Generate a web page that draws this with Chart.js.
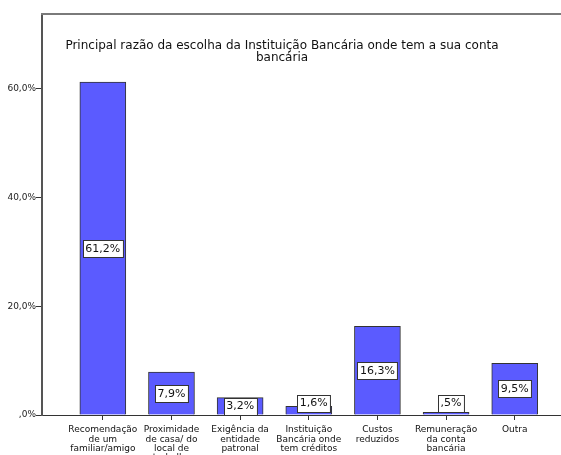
<!DOCTYPE html>
<html>
<head>
<meta charset="utf-8">
<script src="https://cdn.jsdelivr.net/npm/chart.js@4/dist/chart.umd.min.js"></script>
<style>
    html, body { margin: 0; padding: 0; background: #fff; }
    #wrap { width: 561px; height: 455px; }
</style>
</head>
<body>
<div id="wrap"><canvas id="razaoChart"></canvas></div>
<script>
/* Principal razão da escolha do banco - bar chart (SPSS style) */

const categories = [
    ['Recomendação', 'de um', 'familiar/amigo'],
    ['Proximidade', 'de casa/ do', 'local de', 'trabalho'],
    ['Exigência da', 'entidade', 'patronal'],
    ['Instituição', 'Bancária onde', 'tem créditos'],
    ['Custos', 'reduzidos'],
    ['Remuneração', 'da conta', 'bancária'],
    ['Outra']
];
const percentages = [61.2, 7.9, 3.2, 1.6, 16.3, 0.5, 9.5];
const yTicks = [0, 20, 40, 60];
const titleLines = ['Principal razão da escolha da Instituição Bancária onde tem a sua conta', 'bancária'];

const FONT = "'DejaVu Sans', Verdana, sans-serif";

// 61.2 -> "61,2%", 0.5 -> ",5%", 0 -> ",0%"
function fmtPct(v) {
    let s = v.toFixed(1).replace('.', ',');
    if (s.startsWith('0,')) s = s.slice(1);
    return s + '%';
}

/* frame line along the top, title inside the plot */
const framePlugin = {
    id: 'frame',
    afterDraw(chart) {
        const { ctx, chartArea } = chart;
        ctx.save();
        ctx.strokeStyle = '#7a7a7a';
        ctx.lineWidth = 2;
        ctx.beginPath();
        ctx.moveTo(chartArea.left - 1, chartArea.top);
        ctx.lineTo(chart.width, chartArea.top);
        ctx.stroke();

        ctx.fillStyle = '#111';
        ctx.font = '12px ' + FONT;
        ctx.textAlign = 'center';
        ctx.textBaseline = 'middle';
        ctx.fillText(titleLines[0], 282, 46);
        ctx.fillText(titleLines[1], 282, 58);
        ctx.restore();
    }
};

/* boxed value labels on the bars; very short bars get the box lifted above the axis */
const valueBoxes = {
    id: 'valueBoxes',
    afterDatasetsDraw(chart) {
        const { ctx } = chart;
        const meta = chart.getDatasetMeta(0);
        ctx.save();
        ctx.font = '11px ' + FONT;
        ctx.textAlign = 'center';
        ctx.textBaseline = 'middle';
        meta.data.forEach((bar, i) => {
            const text = fmtPct(percentages[i]);
            const w = ctx.measureText(text).width + 5;
            const h = 17;
            const barH = bar.base - bar.y;
            let cx = bar.x;
            let cy = bar.y + barH / 2;
            if (barH < 12) {
                cy = bar.base - h / 2 - 3;
                cx += 5;
            }
            const x = Math.round(cx - w / 2) + 0.5;
            const y = Math.round(cy - h / 2) + 0.5;
            ctx.fillStyle = '#fff';
            ctx.fillRect(x, y, w, h);
            ctx.strokeStyle = '#333';
            ctx.lineWidth = 1;
            ctx.strokeRect(x, y, w, h);
            ctx.fillStyle = '#111';
            ctx.fillText(text, cx, cy + 0.5);
        });
        ctx.restore();
    }
};

new Chart(document.getElementById('razaoChart'), {
    type: 'bar',
    data: {
        datasets: [{
            label: 'Percentagem',
            data: percentages.map((v, i) => ({ x: i, y: v })),
            backgroundColor: '#5b5bff',
            borderColor: '#333',
            borderWidth: 1,
            barThickness: 46
        }]
    },
    options: {
        responsive: true,
        maintainAspectRatio: false,
        animation: false,
        layout: { padding: { top: 14, left: 0, right: 0, bottom: 0 } },
        plugins: {
            legend: { display: false },
            tooltip: { enabled: false }
        },
        scales: {
            x: {
                type: 'linear',
                offset: false,
                min: -0.886,
                max: 6.674,
                afterBuildTicks: (scale) => {
                    scale.ticks = categories.map((_, i) => ({ value: i }));
                },
                afterFit: (scale) => { scale.height = 40; },
                ticks: {
                    autoSkip: false,
                    maxRotation: 0,
                    padding: 5,
                    color: '#111',
                    font: { size: 9, family: FONT, lineHeight: 1.05 },
                    callback: (v) => categories[v]
                },
                grid: {
                    offset: false,
                    drawOnChartArea: false,
                    tickLength: 5,
                    tickColor: '#333'
                },
                border: { color: '#333', width: 1 }
            },
            y: {
                min: 0,
                max: 73.7,
                afterBuildTicks: (scale) => {
                    scale.ticks = yTicks.map(v => ({ value: v }));
                },
                afterFit: (scale) => { scale.width = 42; },
                ticks: {
                    padding: 0,
                    color: '#222',
                    font: { size: 9, family: FONT },
                    callback: (v) => fmtPct(v)
                },
                grid: {
                    drawOnChartArea: false,
                    tickLength: 6,
                    tickColor: '#333'
                },
                border: { color: '#555', width: 2 }
            }
        }
    },
    plugins: [framePlugin, valueBoxes]
});
</script>
</body>
</html>
